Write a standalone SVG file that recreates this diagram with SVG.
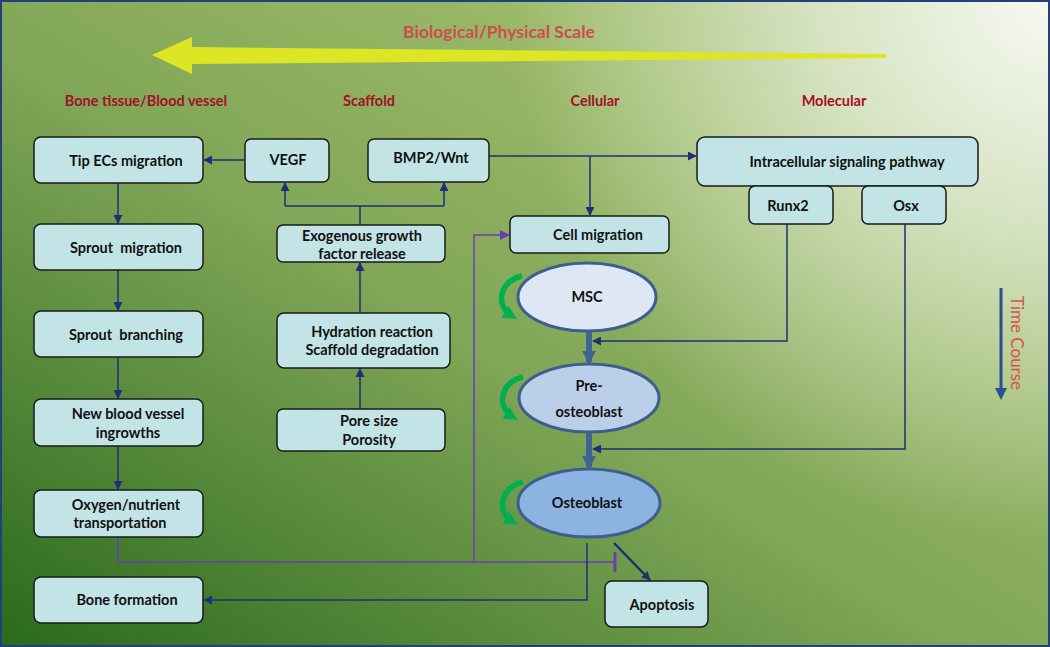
<svg xmlns="http://www.w3.org/2000/svg" width="1050" height="647" viewBox="0 0 1050 647">
<defs>
<linearGradient id="bg" x1="0" y1="1" x2="1" y2="0">
<stop offset="0" stop-color="#2a6a1c"/>
<stop offset="0.45" stop-color="#7fa556"/>
<stop offset="0.75" stop-color="#9bba68"/>
<stop offset="1" stop-color="#a8c27a"/>
</linearGradient>
<radialGradient id="glow" cx="1050" cy="0" r="540" gradientUnits="userSpaceOnUse">
<stop offset="0" stop-color="#ffffff" stop-opacity="0.9"/>
<stop offset="0.45" stop-color="#ffffff" stop-opacity="0.55"/>
<stop offset="1" stop-color="#ffffff" stop-opacity="0"/>
</radialGradient>
<marker id="ah" viewBox="0 0 10 10" refX="9" refY="5" markerWidth="9" markerHeight="9" markerUnits="userSpaceOnUse" orient="auto">
<path d="M0,0 L10,5 L0,10 Z" fill="#1c2f78"/>
</marker>
<marker id="ahp" viewBox="0 0 10 10" refX="9" refY="5" markerWidth="10" markerHeight="10" markerUnits="userSpaceOnUse" orient="auto">
<path d="M0,0 L10,5 L0,10 Z" fill="#6a3db5"/>
</marker>
<marker id="aht" viewBox="0 0 10 10" refX="8" refY="5" markerWidth="14" markerHeight="14" markerUnits="userSpaceOnUse" orient="auto">
<path d="M0,0 L10,5 L0,10 Z" fill="#3e6496"/>
</marker>
<marker id="ahg" viewBox="0 0 10 10" refX="6" refY="5" markerWidth="14" markerHeight="14" markerUnits="userSpaceOnUse" orient="auto">
<path d="M0,0 L10,5 L0,10 Z" fill="#00b050"/>
</marker>
<g id="loop">
<path d="M522,276 C499,281 495,306 512,316" fill="none" stroke="#00b050" stroke-width="5.5" marker-end="url(#ahg)"/>
</g>
</defs>
<style>
.box{fill:#c2e4e6;stroke:#1a1a1a;stroke-width:1.5}
.t{font-family:Lato,'Liberation Sans',sans-serif;font-weight:bold;font-size:14.5px;fill:#111;text-anchor:middle}
.h{font-family:Lato,'Liberation Sans',sans-serif;font-weight:bold;font-size:14.5px;fill:#a3102a;text-anchor:middle}
.c{fill:none;stroke:#1c2f78;stroke-width:1.5}
.p{fill:none;stroke:#6a3db5;stroke-width:1.5}
</style>
<rect x="0" y="0" width="1050" height="647" fill="url(#bg)"/>
<rect x="0" y="0" width="1050" height="647" fill="url(#glow)"/>
<rect x="1" y="1" width="1048" height="645" fill="none" stroke="#24407a" stroke-width="2"/>

<g id="scale">
<path d="M886,54 L886,58 L192,64 L192,74 L152,55 L192,37 L192,47 Z" fill="#dde624"/>
<text x="499" y="38" font-family="Lato,'Liberation Sans',sans-serif" font-size="17.5" font-weight="bold" fill="#cc4d52" text-anchor="middle">Biological/Physical Scale</text>
</g>
<g id="headers">
<text class="h" x="146" y="106">Bone tissue/Blood vessel</text>
<text class="h" x="369" y="106">Scaffold</text>
<text class="h" x="595" y="106">Cellular</text>
<text class="h" x="834" y="106">Molecular</text>
</g>
<g id="timecourse">
<line x1="1001" y1="288" x2="1001" y2="390" stroke="#2a4f8f" stroke-width="3"/>
<path d="M995,388 L1007,388 L1001,400 Z" fill="#2a4f8f"/>
<text transform="translate(1011,343) rotate(90)" font-family="Lato,'Liberation Sans',sans-serif" font-size="17" fill="#d9534f" text-anchor="middle">Time Course</text>
</g>

<g id="connectors">
<line class="c" x1="245" y1="160" x2="204" y2="160" marker-end="url(#ah)"/>
<line class="c" x1="118" y1="183" x2="118" y2="223" marker-end="url(#ah)"/>
<line class="c" x1="118" y1="270" x2="118" y2="310" marker-end="url(#ah)"/>
<line class="c" x1="118" y1="357" x2="118" y2="398" marker-end="url(#ah)"/>
<line class="c" x1="118" y1="446" x2="118" y2="489" marker-end="url(#ah)"/>
<polyline class="c" points="360,225 360,206"/>
<polyline class="c" points="285,206 444,206"/>
<line class="c" x1="285" y1="206" x2="285" y2="183" marker-end="url(#ah)"/>
<line class="c" x1="444" y1="206" x2="444" y2="183" marker-end="url(#ah)"/>
<line class="c" x1="360" y1="313" x2="360" y2="263" marker-end="url(#ah)"/>
<line class="c" x1="360" y1="409" x2="360" y2="369" marker-end="url(#ah)"/>
<line class="c" x1="489" y1="156" x2="696" y2="156" marker-end="url(#ah)"/>
<line class="c" x1="590" y1="156" x2="590" y2="215" marker-end="url(#ah)"/>
<polyline class="c" points="787,224 787,341 593,341" marker-end="url(#ah)"/>
<polyline class="c" points="905,224 905,449 593,449" marker-end="url(#ah)"/>
<polyline class="p" points="118,537 118,562 615,562"/>
<line x1="615" y1="552" x2="615" y2="572" stroke="#6a3db5" stroke-width="3"/>
<polyline class="p" points="474,562 474,235 509,235" marker-end="url(#ahp)"/>
<polyline class="c" points="587,543 587,600 204,600" marker-end="url(#ah)"/>
<line x1="614" y1="543" x2="650" y2="580" stroke="#1c2f78" stroke-width="2.5" marker-end="url(#ah)"/>
<line x1="589" y1="332" x2="589" y2="362" stroke="#3e6496" stroke-width="6" marker-end="url(#aht)"/>
<line x1="589" y1="433" x2="589" y2="467" stroke="#3e6496" stroke-width="6" marker-end="url(#aht)"/>
<use href="#loop"/>
<use href="#loop" transform="translate(1,101)"/>
<use href="#loop" transform="translate(1,206)"/>
</g>

<g id="tip"><rect class="box" x="34" y="137" width="169" height="46" rx="7"/><text class="t" x="126" y="166">Tip ECs migration</text></g>
<g id="sproutmig"><rect class="box" x="34" y="224" width="169" height="46" rx="7"/><text class="t" x="126" y="253" style="white-space:pre">Sprout  migration</text></g>
<g id="sproutbr"><rect class="box" x="34" y="311" width="169" height="46" rx="7"/><text class="t" x="126" y="340" style="white-space:pre">Sprout  branching</text></g>
<g id="newvessel"><rect class="box" x="34" y="399" width="169" height="47" rx="7"/><text class="t" x="128" y="419">New blood vessel</text><text class="t" x="128" y="438">ingrowths</text></g>
<g id="oxygen"><rect class="box" x="34" y="490" width="169" height="47" rx="7"/><text class="t" x="126" y="510">Oxygen/nutrient</text><text class="t" x="120" y="528">transportation</text></g>
<g id="boneform"><rect class="box" x="34" y="577" width="169" height="46" rx="7"/><text class="t" x="127" y="605">Bone formation</text></g>
<g id="vegf"><rect class="box" x="245" y="139" width="84" height="43" rx="6"/><text class="t" x="288" y="165">VEGF</text></g>
<g id="bmp2"><rect class="box" x="368" y="139" width="121" height="43" rx="6"/><text class="t" x="431" y="163">BMP2/Wnt</text></g>
<g id="exo"><rect class="box" x="277" y="225" width="168" height="37" rx="6"/><text class="t" x="362" y="241">Exogenous growth</text><text class="t" x="362" y="259">factor release</text></g>
<g id="hydration"><rect class="box" x="277" y="313" width="173" height="55" rx="7"/><text class="t" x="372" y="337">Hydration reaction</text><text class="t" x="372" y="355">Scaffold degradation</text></g>
<g id="pore"><rect class="box" x="277" y="409" width="168" height="42" rx="6"/><text class="t" x="369" y="426">Pore size</text><text class="t" x="369" y="445">Porosity</text></g>
<g id="intracellular"><rect class="box" x="697" y="137" width="281" height="49" rx="8"/><text class="t" x="847" y="167">Intracellular signaling pathway</text></g>
<g id="runx2"><rect class="box" x="749" y="186" width="84" height="38" rx="6"/><text class="t" x="788" y="211">Runx2</text></g>
<g id="osx"><rect class="box" x="862" y="186" width="84" height="38" rx="6"/><text class="t" x="906" y="211">Osx</text></g>
<g id="cellmig"><rect class="box" x="510" y="216" width="159" height="37" rx="6"/><text class="t" x="598" y="240">Cell migration</text></g>
<g id="apoptosis"><rect class="box" x="605" y="581" width="103" height="46" rx="7"/><text class="t" x="662" y="610">Apoptosis</text></g>
<g id="msc"><ellipse cx="587" cy="297" rx="69" ry="34" fill="#dde8f4" stroke="#3c5f8f" stroke-width="3"/><text class="t" x="587" y="302">MSC</text></g>
<g id="preost"><ellipse cx="589" cy="398" rx="70" ry="34" fill="#bccfe8" stroke="#3c5f8f" stroke-width="3"/><text class="t" x="589" y="391">Pre-</text><text class="t" x="589" y="417">osteoblast</text></g>
<g id="osteoblast"><ellipse cx="589" cy="503" rx="71" ry="34" fill="#8db3e2" stroke="#3c5f8f" stroke-width="3"/><text class="t" x="587" y="508">Osteoblast</text></g>
</svg>
